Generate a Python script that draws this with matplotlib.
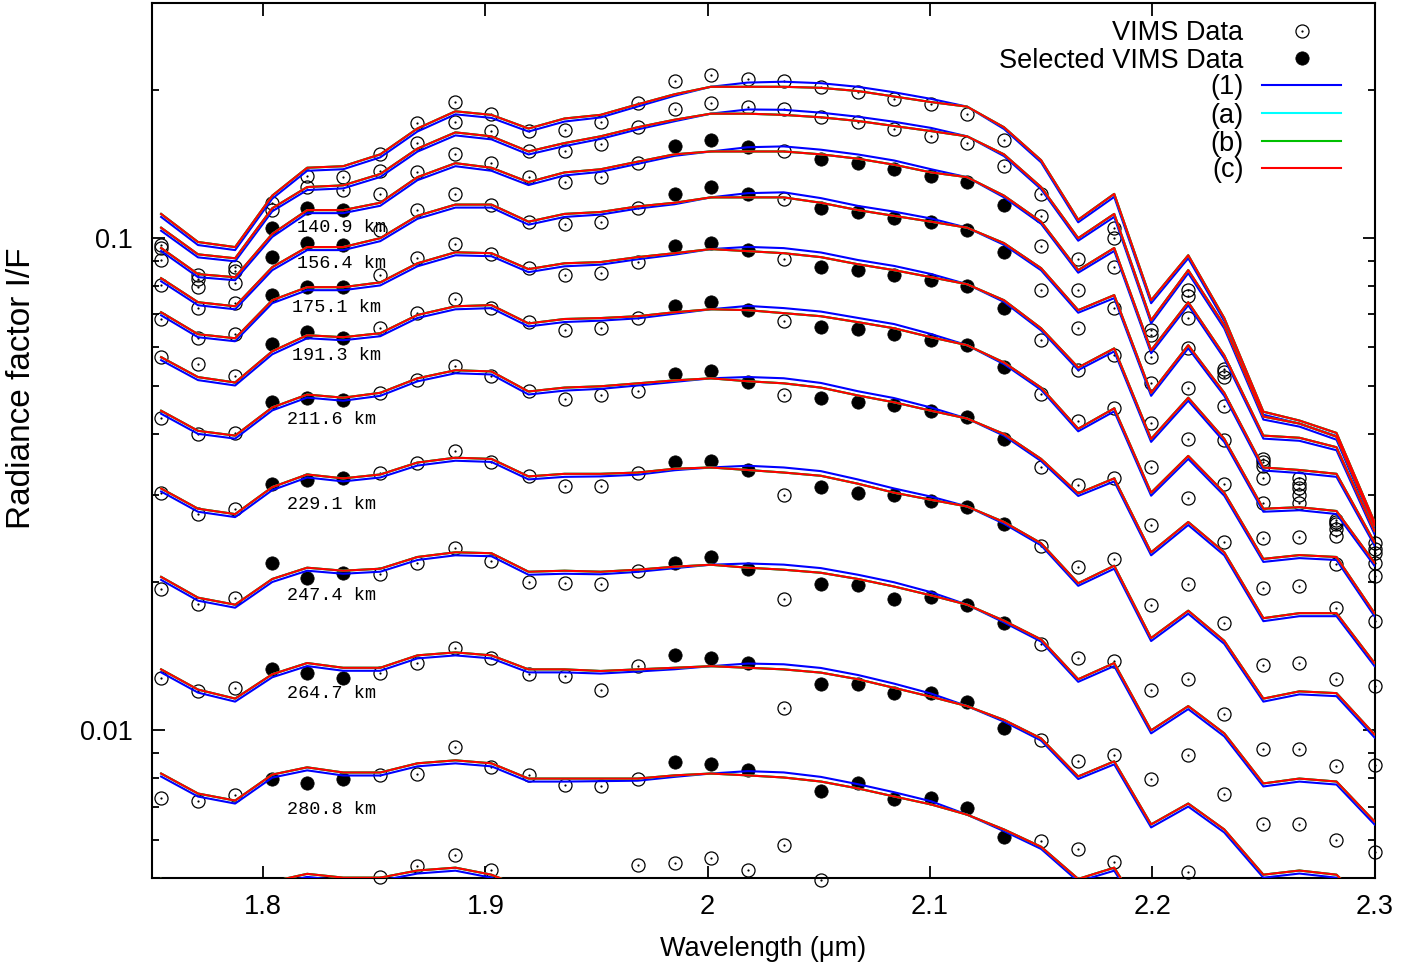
import numpy as np
import matplotlib
matplotlib.use("Agg")
import matplotlib.pyplot as plt
from matplotlib.ticker import LogLocator, NullFormatter

plt.rcParams["font.family"] = ["Liberation Sans", "DejaVu Sans"]

nan = float("nan")

# VIMS channel centres (micron)
wavelength = [1.7541, 1.7707, 1.7874, 1.8041, 1.8198, 1.8360, 1.8527, 1.8694, 1.8865,
              1.9027, 1.9194, 1.9356, 1.9518, 1.9685, 1.9851, 2.0014, 2.0180, 2.0342,
              2.0509, 2.0676, 2.0838, 2.1005, 2.1167, 2.1333, 2.1500, 2.1667, 2.1829,
              2.1995, 2.2162, 2.2324, 2.2500, 2.2662, 2.2829, 2.3000]

# model (c) I/F, one spectrum per altitude, top to bottom
fit_00 = [0.112, 0.0982, 0.0959, 0.122, 0.139, 0.140, 0.148, 0.167, 0.181, 0.178, 0.167, 0.175,
          0.178, 0.187, 0.196, 0.203, 0.203, 0.203, 0.202, 0.199, 0.194, 0.189, 0.185, 0.168,
          0.144, 0.109, 0.123, 0.0748, 0.0923, 0.0688, 0.0444, 0.0426, 0.0402, 0.0265]
fit_01 = [0.105, 0.0927, 0.0910, 0.115, 0.127, 0.128, 0.135, 0.152, 0.164, 0.161, 0.150, 0.156,
          0.161, 0.168, 0.174, 0.179, 0.179, 0.178, 0.176, 0.173, 0.169, 0.165, 0.161, 0.148,
          0.127, 0.100, 0.112, 0.0681, 0.0861, 0.0665, 0.0434, 0.0420, 0.0395, 0.0261]
fit_02 = [0.0955, 0.0845, 0.0833, 0.102, 0.114, 0.114, 0.118, 0.133, 0.142, 0.139, 0.130, 0.136,
          0.138, 0.143, 0.148, 0.150, 0.150, 0.150, 0.148, 0.145, 0.141, 0.136, 0.133, 0.122,
          0.108, 0.0861, 0.0955, 0.0592, 0.0741, 0.0578, 0.0397, 0.0393, 0.0376, 0.0254]
fit_03 = [0.0829, 0.0741, 0.0727, 0.0873, 0.0959, 0.0959, 0.100, 0.111, 0.117, 0.117, 0.108, 0.112,
          0.113, 0.116, 0.118, 0.121, 0.121, 0.121, 0.118, 0.114, 0.111, 0.108, 0.105, 0.0977,
          0.0869, 0.0714, 0.0766, 0.0485, 0.0606, 0.0485, 0.0342, 0.0338, 0.0332, 0.0241]
fit_04 = [0.0707, 0.0638, 0.0626, 0.0748, 0.0795, 0.0795, 0.0813, 0.0889, 0.0936, 0.0932, 0.0865,
          0.0889, 0.0894, 0.0915, 0.0932, 0.0950, 0.0941, 0.0932, 0.0915, 0.0885, 0.0861, 0.0833,
          0.0806, 0.0748, 0.0656, 0.0546, 0.0597, 0.0391, 0.0474, 0.0391, 0.0282, 0.0284, 0.0279, 0.0219]
fit_05 = [0.0573, 0.0522, 0.0509, 0.0589, 0.0635, 0.0629, 0.0641, 0.0698, 0.0727, 0.0731, 0.0671,
          0.0685, 0.0688, 0.0694, 0.0707, 0.0717, 0.0714, 0.0704, 0.0694, 0.0675, 0.0656, 0.0629,
          0.0606, 0.0559, 0.0497, 0.0410, 0.0451, 0.0304, 0.0361, 0.0304, 0.0223, 0.0227, 0.0225, 0.0173]
fit_06 = [0.0446, 0.0406, 0.0397, 0.0453, 0.0481, 0.0474, 0.0485, 0.0519, 0.0539, 0.0536, 0.0488,
          0.0497, 0.0500, 0.0507, 0.0514, 0.0519, 0.0512, 0.0507, 0.0497, 0.0479, 0.0464, 0.0446,
          0.0430, 0.0400, 0.0356, 0.0303, 0.0325, 0.0230, 0.0265, 0.0230, 0.0169, 0.0173, 0.0173, 0.0137]
fit_07 = [0.0310, 0.0282, 0.0275, 0.0312, 0.0331, 0.0325, 0.0331, 0.0350, 0.0358, 0.0356, 0.0328,
          0.0332, 0.0332, 0.0334, 0.0340, 0.0342, 0.0338, 0.0334, 0.0329, 0.0317, 0.0304, 0.0294,
          0.0285, 0.0265, 0.0240, 0.0199, 0.0216, 0.0154, 0.0175, 0.0152, 0.0116, 0.0120, 0.0119, 0.00981]
fit_08 = [0.0205, 0.0186, 0.0180, 0.0203, 0.0214, 0.0211, 0.0213, 0.0225, 0.0230, 0.0229, 0.0210,
          0.0211, 0.0210, 0.0212, 0.0215, 0.0217, 0.0214, 0.0212, 0.0209, 0.0203, 0.0196, 0.0188,
          0.0180, 0.0167, 0.0153, 0.0127, 0.0137, 0.0100, 0.0112, 0.00986, 0.00780, 0.00798,
          0.00787, 0.00653]
fit_09 = [0.0133, 0.0121, 0.0116, 0.0130, 0.0137, 0.0134, 0.0134, 0.0142, 0.0144, 0.0142, 0.0133,
          0.0133, 0.0132, 0.0133, 0.0134, 0.0135, 0.0134, 0.0133, 0.0131, 0.0127, 0.0122, 0.0117,
          0.0112, 0.0105, 0.00963, 0.00806, 0.00865, 0.00644, 0.00710, 0.00629, 0.00509, 0.00519,
          0.00509, 0.00428]
fit_10 = [0.00817, 0.00744, 0.00720, 0.00813, 0.00841, 0.00821, 0.00821, 0.00857, 0.00869, 0.00857,
          0.00798, 0.00798, 0.00798, 0.00798, 0.00810, 0.00817, 0.00810, 0.00802, 0.00787, 0.00762,
          0.00734, 0.00707, 0.00674, 0.00629, 0.00580, 0.00499, 0.00526, 0.00399,
          nan, nan, nan, nan, nan, nan]
fit_11 = [0.00499, 0.00449, 0.00439, 0.00493, 0.00511, 0.00502, 0.00502, 0.00519, 0.00526, 0.00509,
          0.00475] + [nan] * 23

# model (1) relative to model (c), per channel
model1_over_c = [0.986, 0.986, 0.986, 0.986, 0.986, 0.986, 0.986, 0.986, 0.986, 0.986, 0.986, 0.986,
                 0.988, 0.990, 0.993, 1.000, 1.020, 1.024, 1.022, 1.020, 1.020, 1.015, 1.000, 0.992,
                 0.990, 0.988, 0.986, 0.986, 0.986, 0.986, 0.986, 0.986, 0.986, 0.986]

# VIMS I/F, same altitudes
obs_00 = [0.0968, 0.0841, 0.0873, 0.118, 0.134, 0.133, 0.148, 0.171, 0.189, 0.179, 0.165, 0.166,
          0.172, 0.188, 0.209, 0.215, 0.211, 0.209, 0.203, 0.198, 0.192, 0.187, 0.179, 0.158,
          0.123, 0.0906, 0.105, 0.0650, 0.0784, 0.0543, 0.0356, 0.0325, 0.0267, 0.0240]
obs_01 = [0.0955, 0.0826, 0.0857, 0.114, 0.127, 0.125, 0.137, 0.156, 0.172, 0.165, 0.150, 0.150,
          0.155, 0.168, 0.183, 0.188, 0.185, 0.183, 0.176, 0.172, 0.167, 0.161, 0.156, 0.140,
          0.111, 0.0784, 0.100, 0.0635, 0.0762, 0.0534, 0.0351, 0.0317, 0.0265, 0.0234]
obs_02 = [0.0902, 0.0795, 0.0810, 0.105, 0.115, 0.114, 0.123, 0.136, 0.148, 0.142, 0.133, 0.130,
          0.133, 0.142, 0.154, 0.158, 0.153, 0.150, 0.145, 0.142, 0.138, 0.134, 0.130, 0.117,
          0.0964, 0.0656, 0.0873, 0.0573, 0.0688, 0.0522, 0.0345, 0.0310, 0.0262, 0.0229]
obs_03 = [0.0802, 0.0721, 0.0738, 0.0915, 0.0977, 0.0968, 0.104, 0.114, 0.123, 0.117, 0.108, 0.107,
          0.108, 0.115, 0.123, 0.127, 0.123, 0.120, 0.115, 0.113, 0.110, 0.108, 0.104, 0.0936,
          0.0784, 0.0539, 0.0721, 0.0507, 0.0597, 0.0457, 0.0325, 0.0300, 0.0257, 0.0219]
obs_04 = [0.0685, 0.0626, 0.0638, 0.0766, 0.0795, 0.0795, 0.0841, 0.0910, 0.0973, 0.0927, 0.0869,
          0.0841, 0.0849, 0.0894, 0.0964, 0.0977, 0.0945, 0.0906, 0.0873, 0.0861, 0.0841, 0.0821,
          0.0798, 0.0721, 0.0620, 0.0426, 0.0578, 0.0422, 0.0495, 0.0389, 0.0290, 0.0289, 0.0248, 0.0206]
obs_05 = [0.0573, 0.0554, 0.0524, 0.0608, 0.0644, 0.0626, 0.0656, 0.0704, 0.0752, 0.0721, 0.0675,
          0.0650, 0.0656, 0.0688, 0.0727, 0.0741, 0.0714, 0.0678, 0.0659, 0.0653, 0.0638, 0.0620,
          0.0606, 0.0546, 0.0483, 0.0315, 0.0451, 0.0342, 0.0391, 0.0317, 0.0246, 0.0247, 0.0218, 0.0167]
obs_06 = [0.0432, 0.0400, 0.0402, 0.0464, 0.0474, 0.0468, 0.0485, 0.0514, 0.0551, 0.0524, 0.0490,
          0.0472, 0.0479, 0.0490, 0.0529, 0.0536, 0.0509, 0.0481, 0.0474, 0.0464, 0.0459, 0.0446,
          0.0434, 0.0391, 0.0343, 0.0215, 0.0326, 0.0261, 0.0296, 0.0241, 0.0195, 0.0196, 0.0177, 0.0123]
obs_07 = [0.0303, 0.0275, 0.0281, 0.0316, 0.0322, 0.0325, 0.0334, 0.0350, 0.0370, 0.0351, 0.0328,
          0.0313, 0.0313, 0.0334, 0.0351, 0.0353, 0.0338, 0.0301, 0.0312, 0.0304, 0.0301, 0.0293,
          0.0284, 0.0262, 0.0237, 0.0140, 0.0223, 0.0180, 0.0198, 0.0165, 0.0136, 0.0137, 0.0127, 0.00849]
obs_08 = [0.0194, 0.0181, 0.0186, 0.0219, 0.0204, 0.0209, 0.0208, 0.0219, 0.0235, 0.0221, 0.0200,
          0.0199, 0.0198, 0.0211, 0.0219, 0.0225, 0.0213, 0.0185, 0.0198, 0.0197, 0.0185, 0.0187,
          0.0180, 0.0165, 0.0150, 0.00865, 0.0138, 0.0121, 0.0127, 0.0108, 0.00915, 0.00915,
          0.00845, 0.00567]
obs_09 = [0.0128, 0.0120, 0.0122, 0.0133, 0.0131, 0.0128, 0.0131, 0.0137, 0.0147, 0.0140, 0.0130,
          0.0129, 0.0121, 0.0135, 0.0142, 0.0140, 0.0137, 0.0111, 0.0124, 0.0124, 0.0119, 0.0119,
          0.0114, 0.0101, 0.00958, 0.00575, 0.00893, 0.00795, 0.00893, 0.00744, 0.00644, 0.00644,
          0.00600, nan]
obs_10 = [0.00727, 0.00720, 0.00740, 0.00795, 0.00783, 0.00795, 0.00813, 0.00817, 0.00924, 0.00841,
          0.00813, 0.00776, 0.00769, 0.00795, 0.00861, 0.00853, 0.00829, 0.00586, 0.00754, 0.00780,
          0.00724, 0.00727, 0.00694, 0.00606, 0.00597, nan, 0.00539, nan, 0.00516,
          nan, nan, nan, nan, nan]
obs_11 = [nan, nan, nan, nan, nan, nan, 0.00504, 0.00529, 0.00559, 0.00521, nan, nan, nan,
          0.00533, 0.00538, 0.00551, 0.00521, nan, 0.00497] + [nan] * 15

# channels used in the retrieval, for the labelled altitudes
selected_channels = [3, 4, 5, 14, 15, 16, 18, 19, 20, 21, 22, 23]
labelled_rows = [2, 3, 4, 5, 6, 7, 8, 9, 10]

altitudes = ["140.9 km", "156.4 km", "175.1 km", "191.3 km", "211.6 km",
             "229.1 km", "247.4 km", "264.7 km", "280.8 km"]
label_wl = [1.8153, 1.8153, 1.8131, 1.8131, 1.8108, 1.8108, 1.8108, 1.8108, 1.8108]
label_if = [0.1053, 0.0889, 0.0724, 0.0578, 0.0428, 0.0288, 0.0188, 0.0119, 0.00690]

fits = [fit_00, fit_01, fit_02, fit_03, fit_04, fit_05, fit_06, fit_07, fit_08, fit_09, fit_10, fit_11]
obss = [obs_00, obs_01, obs_02, obs_03, obs_04, obs_05, obs_06, obs_07, obs_08, obs_09, obs_10, obs_11]

wl = np.array(wavelength)
ratio1 = np.array(model1_over_c)

BLUE, CYAN, GREEN, RED = "#0000ff", "#00ffff", "#00c000", "#ff0000"
LW = 1.5
MS_OPEN, MS_FULL, MS_DOT = 9.4, 9.6, 1.6

fig = plt.figure(figsize=(14.21, 9.65), dpi=100)
ax = fig.add_axes([0.10697, 0.08964, 0.86031, 0.90694])

# data points
for k, spec in enumerate(obss):
    y = np.array(spec)
    sel = np.zeros(len(y), dtype=bool)
    if k in labelled_rows:
        sel[selected_channels] = True
    ax.plot(wl[~sel], y[~sel], ls="none", marker="o", ms=MS_OPEN, mfc="none",
            mec="black", mew=0.9, zorder=2, clip_on=False)
    ax.plot(wl[~sel], y[~sel], ls="none", marker="o", ms=MS_DOT, mfc="black",
            mec="none", zorder=2, clip_on=False)
    ax.plot(wl[sel], y[sel], ls="none", marker="o", ms=MS_FULL, mfc="black",
            mec="black", mew=0.5, zorder=2, clip_on=False)

# models: (1) first, then (a), (b), (c) on top
for spec in fits:
    ax.plot(wl, np.array(spec) * ratio1, color=BLUE, lw=LW, zorder=3)
for colour, z in [(CYAN, 4), (GREEN, 5), (RED, 6)]:
    for spec in fits:
        ax.plot(wl, spec, color=colour, lw=LW, zorder=z)

for txt, x, y in zip(altitudes, label_wl, label_if):
    ax.text(x, y, txt, family=["Liberation Mono", "DejaVu Sans Mono"], fontsize=13.3,
            ha="left", va="center", zorder=7)

ax.set_xlim(1.75, 2.3)
ax.set_yscale("log")
ax.set_ylim(0.005, 0.3)
ax.set_xticks([1.8, 1.9, 2.0, 2.1, 2.2, 2.3], ["1.8", "1.9", "2", "2.1", "2.2", "2.3"])
ax.set_yticks([0.01, 0.1], ["0.01", "0.1"])
ax.yaxis.set_minor_locator(LogLocator(base=10, subs=np.arange(2, 10), numticks=20))
ax.yaxis.set_minor_formatter(NullFormatter())
ax.tick_params(which="both", direction="in", top=True, right=True, width=1.3, labelsize=19.5)
ax.tick_params(axis="x", which="major", length=9, pad=11.5)
ax.tick_params(axis="y", which="major", length=9, pad=14)
ax.tick_params(which="minor", length=5)
for sp in ax.spines.values():
    sp.set_linewidth(1.5)

ax.set_xlabel("Wavelength (\u03bcm)", fontsize=19.5, labelpad=11)
fig.text(22 / 1421, 1 - 388 / 965, "Radiance factor I/F", rotation=90, fontsize=24,
         ha="center", va="center")

# key, drawn by hand so the labels sit right-aligned against the samples
key_text_x = 0.8928
key_line = (0.9080, 0.9726)
key_mark_x = 0.9407
key_base = [0.9581, 0.9266, 0.8958, 0.8638, 0.8318, 0.8010]
key_mid = [0.9689, 0.9375, 0.9067, 0.8747, 0.8427, 0.8118]
key_labels = ["VIMS Data", "Selected VIMS Data", "(1)", "(a)", "(b)", "(c)"]
for lab, yb in zip(key_labels, key_base):
    ax.text(key_text_x, yb, lab, transform=ax.transAxes, fontsize=19.5, ha="right", va="baseline")
ax.plot([key_mark_x], [key_mid[0]], transform=ax.transAxes, ls="none", marker="o", ms=MS_OPEN,
        mfc="none", mec="black", mew=0.9)
ax.plot([key_mark_x], [key_mid[0]], transform=ax.transAxes, ls="none", marker="o", ms=MS_DOT,
        mfc="black", mec="none")
ax.plot([key_mark_x], [key_mid[1]], transform=ax.transAxes, ls="none", marker="o", ms=MS_FULL,
        mfc="black", mec="black", mew=0.5)
for colour, ym in zip([BLUE, CYAN, GREEN, RED], key_mid[2:]):
    ax.plot(key_line, [ym, ym], transform=ax.transAxes, color=colour, lw=LW)

fig.savefig("out.png", dpi=100)
